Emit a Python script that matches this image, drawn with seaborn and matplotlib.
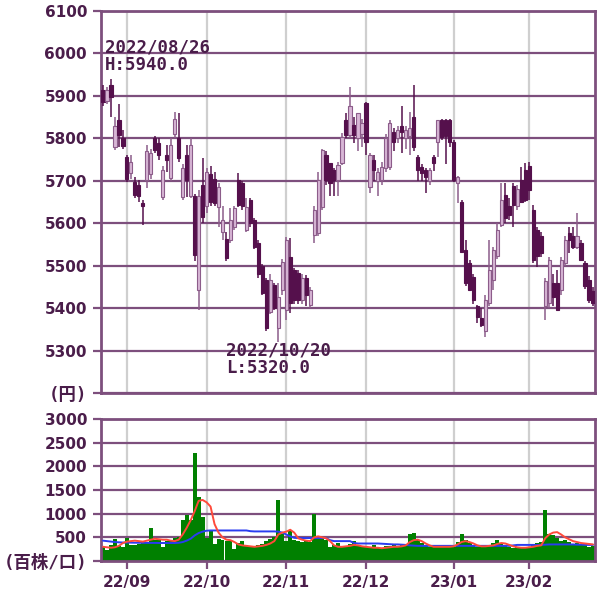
import numpy as np
import pandas as pd
import seaborn as sns
import matplotlib.pyplot as plt

# daily prices (yen), 2022/08/24 - 2023/02/24
opens = [5915, 5887, 5925, 5780, 5843, 5800, 5757, 5718, 5698, 5690,
         5648, 5702, 5717, 5800, 5790, 5662, 5760, 5707, 5810, 5800,
         5662, 5760, 5665, 5665, 5443, 5690, 5640, 5715, 5705, 5639,
         5580, 5564, 5560, 5592, 5702, 5694, 5585, 5655, 5608, 5553,
         5500, 5466, 5390, 5455, 5353, 5443, 5396, 5521, 5490, 5482,
         5419, 5470, 5408, 5572, 5576, 5639, 5761, 5741, 5725, 5702,
         5741, 5843, 5808, 5831, 5800, 5810, 5883, 5686, 5749, 5700,
         5702, 5730, 5733, 5816, 5800, 5830, 5800, 5805, 5851, 5757,
         5733, 5725, 5700, 5757, 5792, 5843, 5843, 5843, 5792, 5694,
         5651, 5537, 5506, 5474, 5404, 5376, 5345, 5411, 5467, 5522,
         5596, 5667, 5640, 5687, 5640, 5702, 5726, 5734, 5631, 5584,
         5569, 5404, 5412, 5459, 5459, 5443, 5506, 5577, 5569, 5545,
         5553, 5506, 5467, 5440]
highs = [5925, 5920, 5940, 5851, 5882, 5820, 5761, 5760, 5710, 5702,
         5655, 5785, 5775, 5805, 5800, 5735, 5785, 5800, 5863, 5860,
         5740, 5785, 5800, 5670, 5678, 5753, 5730, 5735, 5720, 5694,
         5640, 5580, 5635, 5640, 5718, 5700, 5660, 5660, 5612, 5560,
         5505, 5470, 5480, 5460, 5460, 5515, 5568, 5565, 5495, 5490,
         5480, 5478, 5450, 5640, 5720, 5776, 5770, 5741, 5730, 5745,
         5812, 5860, 5922, 5850, 5860, 5845, 5885, 5765, 5760, 5730,
         5745, 5810, 5843, 5825, 5830, 5875, 5830, 5862, 5926, 5760,
         5740, 5730, 5730, 5761, 5843, 5845, 5845, 5845, 5795, 5712,
         5655, 5560, 5514, 5480, 5408, 5400, 5430, 5561, 5545, 5600,
         5694, 5694, 5660, 5694, 5690, 5733, 5742, 5745, 5643, 5592,
         5580, 5470, 5520, 5480, 5490, 5520, 5570, 5592, 5592, 5624,
         5560, 5510, 5475, 5450]
lows = [5875, 5880, 5850, 5773, 5780, 5775, 5698, 5705, 5659, 5651,
        5596, 5683, 5705, 5765, 5750, 5655, 5720, 5700, 5800, 5745,
        5655, 5662, 5660, 5510, 5396, 5600, 5625, 5640, 5640, 5592,
        5560, 5512, 5553, 5585, 5639, 5630, 5580, 5590, 5540, 5470,
        5430, 5345, 5385, 5395, 5320, 5430, 5372, 5388, 5410, 5410,
        5410, 5405, 5400, 5553, 5570, 5630, 5690, 5663, 5663, 5663,
        5737, 5800, 5800, 5790, 5770, 5780, 5760, 5672, 5700, 5663,
        5690, 5720, 5725, 5770, 5790, 5765, 5775, 5760, 5770, 5700,
        5700, 5671, 5690, 5722, 5757, 5795, 5740, 5780, 5698, 5647,
        5530, 5451, 5440, 5410, 5365, 5355, 5333, 5405, 5443, 5515,
        5590, 5600, 5607, 5592, 5630, 5647, 5650, 5655, 5506, 5498,
        5520, 5373, 5400, 5404, 5395, 5430, 5500, 5530, 5540, 5540,
        5510, 5445, 5412, 5405]
closes = [5885, 5914, 5898, 5830, 5808, 5782, 5705, 5745, 5667, 5665,
          5640, 5770, 5766, 5772, 5760, 5725, 5750, 5785, 5845, 5753,
          5729, 5702, 5785, 5525, 5663, 5615, 5720, 5650, 5647, 5686,
          5608, 5517, 5608, 5635, 5643, 5640, 5639, 5600, 5545, 5480,
          5435, 5353, 5466, 5400, 5426, 5508, 5560, 5411, 5419, 5419,
          5470, 5430, 5443, 5631, 5702, 5773, 5702, 5694, 5702, 5737,
          5804, 5808, 5875, 5808, 5859, 5835, 5792, 5761, 5725, 5720,
          5733, 5800, 5835, 5792, 5820, 5815, 5820, 5825, 5780, 5725,
          5718, 5710, 5725, 5741, 5843, 5804, 5805, 5792, 5702, 5710,
          5533, 5460, 5443, 5419, 5380, 5360, 5419, 5490, 5537, 5584,
          5655, 5612, 5620, 5643, 5680, 5651, 5655, 5679, 5514, 5522,
          5529, 5463, 5514, 5427, 5396, 5514, 5561, 5561, 5545, 5569,
          5514, 5451, 5420, 5412]

# volume (hundreds of shares) and its two moving averages
volume = [300, 240, 330, 470, 320, 290, 480, 330, 340, 360,
          380, 400, 690, 450, 440, 300, 420, 440, 480, 500,
          870, 970, 870, 2275, 1360, 920, 480, 660, 350, 470,
          440, 430, 420, 260, 380, 420, 340, 310, 320, 330,
          350, 420, 470, 500, 1290, 560, 420, 660, 450, 430,
          400, 420, 400, 1000, 480, 460, 440, 300, 330, 380,
          320, 300, 360, 420, 340, 320, 300, 270, 330, 300,
          280, 320, 310, 340, 300, 330, 360, 560, 600, 450,
          380, 330, 300, 290, 320, 330, 300, 320, 300, 400,
          580, 450, 380, 330, 300, 300, 320, 330, 380, 450,
          380, 330, 300, 280, 300, 290, 270, 300, 360, 380,
          400, 1080, 560, 540, 480, 420, 450, 400, 350, 380,
          330, 360, 300, 320]
vol_ma_short = [300, 290, 280, 290, 320, 380, 410, 420, 430, 420,
                410, 430, 450, 470, 460, 450, 450, 430, 420, 450,
                560, 700, 860, 1050, 1270, 1290, 1240, 1150, 780, 600,
                500, 450, 440, 400, 350, 330, 320, 310, 300, 310,
                320, 340, 370, 420, 560, 600, 620, 660, 600, 480,
                450, 430, 420, 500, 520, 500, 480, 420, 330, 300,
                300, 310, 320, 340, 330, 310, 300, 290, 280, 280,
                270, 280, 290, 300, 300, 310, 330, 400, 440, 450,
                420, 370, 330, 300, 300, 300, 300, 300, 310, 350,
                400, 420, 400, 370, 330, 310, 310, 320, 330, 360,
                380, 370, 340, 310, 290, 280, 280, 290, 300, 320,
                330, 480, 560, 600, 610, 560, 500, 460, 420, 400,
                380, 370, 360, 350]
vol_ma_long = [430, 420, 410, 400, 395, 390, 390, 388, 386, 385,
               384, 383, 382, 382, 381, 380, 380, 380, 380, 385,
               400, 430, 470, 540, 590, 620, 640, 645, 645, 645,
               645, 645, 645, 645, 645, 645, 645, 630, 625, 625,
               625, 625, 625, 625, 620, 600, 560, 520, 490, 485,
               485, 485, 485, 485, 485, 485, 485, 440, 420, 420,
               420, 420, 420, 380, 370, 370, 370, 370, 370, 370,
               365, 360, 355, 350, 350, 345, 340, 330, 325, 320,
               320, 320, 320, 320, 320, 320, 320, 320, 320, 320,
               320, 320, 320, 320, 320, 320, 320, 320, 320, 320,
               320, 320, 320, 330, 340, 340, 340, 340, 340, 340,
               340, 345, 350, 350, 350, 350, 350, 350, 350, 345,
               345, 340, 340, 340]

tse_holidays = ['2022-09-19', '2022-09-23', '2022-10-10', '2022-11-03',
                '2022-11-23', '2023-01-02', '2023-01-03', '2023-01-09',
                '2023-02-23']
month_labels = ['22/09', '22/10', '22/11', '22/12', '23/01', '23/02']
price_ticks = [5200, 5300, 5400, 5500, 5600, 5700, 5800, 5900, 6000, 6100]
price_labels = ['(円)', '5300', '5400', '5500', '5600', '5700', '5800',
                '5900', '6000', '6100']
vol_ticks = [0, 500, 1000, 1500, 2000, 2500, 3000]
vol_labels = ['(百株/口)', '500', '1000', '1500', '2000', '2500', '3000']

# colours
PURPLE = '#7d4f7d'
TEXT = '#4a1d4a'
DARK = '#55104c'
LIGHT = '#d8b6d6'
LIGHT_EDGE = '#8c5c8a'
VGRID = '#cfcfcf'

sns.set_theme(style='white')
plt.rcParams['font.family'] = ['DejaVu Sans', 'Noto Sans CJK JP']
plt.rcParams['font.weight'] = 'bold'
MONO = ['DejaVu Sans Mono', 'Noto Sans CJK JP']

dates = pd.bdate_range('2022-08-24', '2023-02-24')
dates = dates[~dates.isin(pd.to_datetime(tse_holidays))]

df = pd.DataFrame({
    'i': np.arange(len(dates)), 'date': dates,
    'open': opens, 'high': highs, 'low': lows, 'close': closes,
    'vol': volume, 'ma_s': vol_ma_short, 'ma_l': vol_ma_long,
})
month_pos = df.loc[df['date'].dt.month != df['date'].dt.month.shift(), 'i'].tolist()[1:]

fig = plt.figure(figsize=(6, 5.91), dpi=100)
ax_p = fig.add_axes([101 / 600, 1 - 393 / 591, 494 / 600, 382 / 591])
ax_v = fig.add_axes([101 / 600, 1 - 561 / 591, 494 / 600, 142 / 591])

# ---- candlesticks ----
up = df['close'] >= df['open']
body_lo = df[['open', 'close']].min(axis=1)
body_h = (df['close'] - df['open']).abs().clip(lower=4)
ax_p.vlines(df['i'], df['low'], df['high'],
            colors=np.where(up, LIGHT_EDGE, DARK), lw=1.1, zorder=3)
ax_p.bar(df['i'], body_h, bottom=body_lo, width=0.8,
         color=np.where(up, LIGHT, DARK),
         edgecolor=np.where(up, LIGHT_EDGE, DARK), linewidth=0.8, zorder=4)

for x, y, s in [(0.5, 6013, '2022/08/26'), (0.5, 5973, 'H:5940.0'),
                (30.8, 5299, '2022/10/20'), (30.8, 5259, 'L:5320.0')]:
    ax_p.text(x, y, s, ha='left', va='center', fontsize=12.5, family=MONO,
              color=TEXT, zorder=6)

# ---- volume ----
sns.barplot(data=df, x='i', y='vol', native_scale=True, color='#008000',
            saturation=1, width=1.0, linewidth=0, ax=ax_v, zorder=2)
sns.lineplot(data=df, x='i', y='ma_l', color='#2a3cf0', lw=1.4, ax=ax_v, zorder=5)
sns.lineplot(data=df, x='i', y='ma_s', color='#ff4a3a', lw=1.4, ax=ax_v, zorder=6)

# ---- axes styling ----
for ax, ticks, labels in [(ax_p, price_ticks, price_labels), (ax_v, vol_ticks, vol_labels)]:
    ax.set_xlim(-0.5, len(df) - 0.5)
    ax.set_ylim(ticks[0], ticks[-1])
    ax.set_yticks(ticks)
    ax.set_yticklabels(labels)
    ax.set_xticks(month_pos)
    ax.set_xlabel('')
    ax.set_ylabel('')
    ax.set_axisbelow(True)
    ax.yaxis.grid(True, color=PURPLE, lw=1.6)
    ax.xaxis.grid(True, color=VGRID, lw=1.6)
    for s in ax.spines.values():
        s.set_color(PURPLE)
        s.set_linewidth(2)
    ax.tick_params(axis='y', direction='out', length=6, width=1.6, color=PURPLE,
                   pad=4, labelsize=11, labelcolor=TEXT, left=True)
    # unit label sits where the bottom tick label would be
    unit = ax.get_yticklabels()[0]
    unit.set_fontsize(12.5)
    unit.set_family(MONO)

ax_p.tick_params(axis='x', length=0, labelbottom=False)
ax_v.set_xticklabels(month_labels)
ax_v.tick_params(axis='x', direction='out', length=6, width=1.6, color=PURPLE,
                 pad=4, labelsize=11, labelcolor=TEXT, bottom=True)
if ax_v.get_legend() is not None:
    ax_v.get_legend().remove()

fig.savefig('out.png', dpi=100)
